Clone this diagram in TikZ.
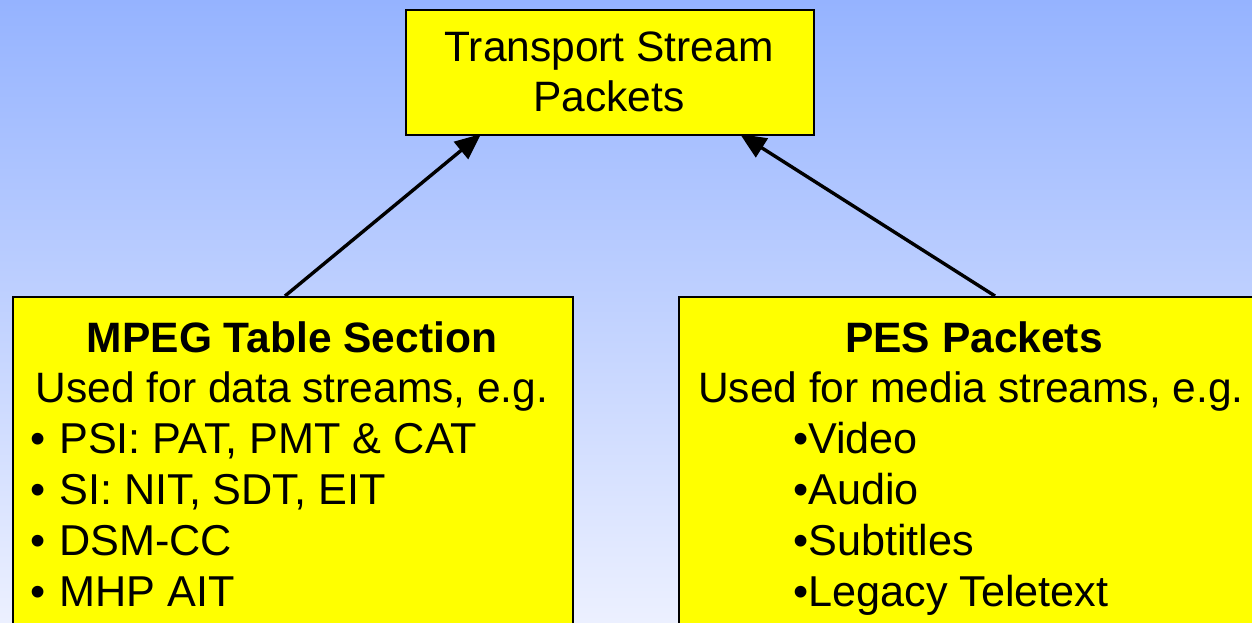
\documentclass[tikz,border=0pt]{standalone}
\usepackage{fontspec}
\setmainfont{Liberation Sans}
\usetikzlibrary{arrows.meta,calc}
\definecolor{skytop}{RGB}{149,179,255}
\definecolor{skybottom}{RGB}{236,240,255}
\definecolor{boxfill}{RGB}{255,255,0}
\tikzset{
  panel/.style={draw=black, line width=2pt, fill=boxfill, rectangle, inner sep=0pt, anchor=north west},
  txt/.style={inner sep=0pt, font=\fontsize{42.5}{51}\selectfont},
  item/.style={inner sep=0pt, anchor=base west, font=\fontsize{43.2}{51}\selectfont},
  feed/.style={line width=3.4pt, -{Triangle[length=26pt,width=22pt]}}
}
\newcommand{\dotitem}{•\hspace{14pt}}
\begin{document}
\begin{tikzpicture}[x=1pt,y=-1pt]
  \useasboundingbox (0,0) rectangle (1252,623);
  \clip (0,0) rectangle (1252,623);
  \shade[top color=skytop, bottom color=skybottom] (0,0) rectangle (1252,623);

  % boxes
  \node[panel, minimum width=408pt, minimum height=125pt] (ts) at (405,9) {};
  \node[panel, minimum width=560pt, minimum height=360pt] (mpeg) at (12,296) {};
  \node[panel, minimum width=620pt, minimum height=360pt] (pes) at (678,296) {};

  % top box text
  \node[txt, anchor=base] (ts1) at (609,62) {Transport Stream};
  \node[txt, anchor=base] (ts2) at (609,112) {Packets};

  % table sections
  \node[txt, anchor=base] (m0) at (292,352) {\bfseries MPEG Table Section};
  \node[txt, anchor=base] (m1) at (292,402) {Used for data streams, e.g.};
  \node[item] (m2) at (30,453) {\dotitem PSI: PAT, PMT \& CAT};
  \node[item] (m3) at (30,504) {\dotitem SI: NIT, SDT, EIT};
  \node[item] (m4) at (30,555) {\dotitem DSM-CC};
  \node[item] (m5) at (30,606) {\dotitem MHP AIT};

  % PES packets
  \node[txt, anchor=base] (p0) at (974,352) {\bfseries PES Packets};
  \node[txt, anchor=base] (p1) at (971,402) {Used for media streams, e.g.};
  \node[item] (p2) at (793,453) {•Video};
  \node[item] (p3) at (793,504) {•Audio};
  \node[item] (p4) at (793,555) {•Subtitles};
  \node[item] (p5) at (793,606) {•Legacy Teletext};

  % connectors
  \draw[feed] ([xshift=273pt]mpeg.north west) -- ([xshift=76pt,yshift=2pt]ts.south west);
  \draw[feed] ([xshift=317pt]pes.north west) -- ([xshift=335pt,yshift=2pt]ts.south west);
\end{tikzpicture}
\end{document}
